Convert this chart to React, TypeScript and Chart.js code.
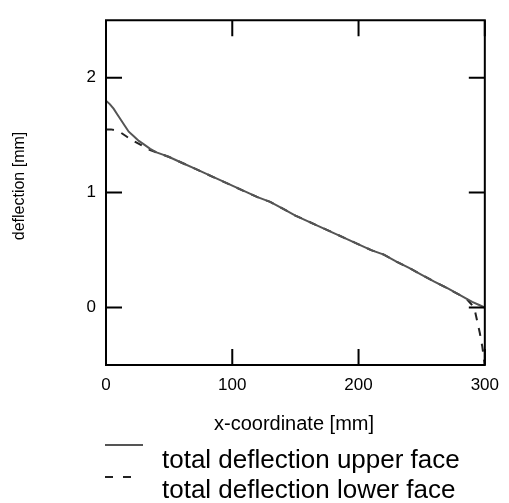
import React, { useEffect, useRef } from "react";
import { Chart, registerables } from "chart.js";

Chart.register(...registerables);

const upperX = [0, 3, 6, 9, 12, 15, 18, 22, 26, 30, 35, 40, 45, 50, 60, 70, 80, 90, 100, 110, 120, 130, 140, 150, 160, 170, 180, 190, 200, 210, 220, 230, 240, 250, 260, 270, 280, 290, 296, 300];
const upperY = [1.8, 1.77, 1.73, 1.68, 1.63, 1.58, 1.53, 1.49, 1.45, 1.42, 1.38, 1.35, 1.33, 1.31, 1.26, 1.21, 1.16, 1.11, 1.06, 1.01, 0.96, 0.92, 0.86, 0.8, 0.75, 0.7, 0.65, 0.6, 0.55, 0.5, 0.46, 0.4, 0.345, 0.285, 0.225, 0.17, 0.11, 0.05, 0.02, 0.0];

const lowerX = [0, 4, 8, 12, 16, 20, 25, 30, 35, 40, 45, 50, 60, 70, 80, 90, 100, 110, 120, 130, 140, 150, 160, 170, 180, 190, 200, 210, 220, 230, 240, 250, 260, 270, 280, 286, 290, 292, 294, 296, 298, 300];
const lowerY = [1.55, 1.55, 1.54, 1.52, 1.49, 1.46, 1.43, 1.4, 1.37, 1.35, 1.33, 1.31, 1.26, 1.21, 1.16, 1.11, 1.06, 1.01, 0.96, 0.92, 0.86, 0.8, 0.75, 0.7, 0.65, 0.6, 0.55, 0.5, 0.46, 0.4, 0.345, 0.285, 0.225, 0.17, 0.11, 0.07, 0.02, -0.02, -0.12, -0.22, -0.34, -0.5];

const xTicks = [0, 100, 200, 300];
const yTicks = [0, 1, 2];
const xTitle = "x-coordinate [mm]";
const yTitle = "deflection [mm]";
const legendLabels = ["total deflection upper face", "total deflection lower face"];

const FONT = "'Liberation Sans', Arial, Helvetica, sans-serif";
const UPPER_COLOR = "#555555";
const LOWER_COLOR = "#222222";

const framePlugin = {
  id: "framePlugin",
  afterDraw(chart: any) {
    const { ctx, chartArea, scales } = chart;
    const { left, right, top, bottom } = chartArea;
    const tl = 16;
    ctx.save();
    ctx.strokeStyle = "#000";
    ctx.lineWidth = 2;
    ctx.beginPath();
    ctx.rect(left, top, right - left, bottom - top);
    ctx.stroke();
    ctx.beginPath();
    for (const v of xTicks) {
      const px = scales.x.getPixelForValue(v);
      ctx.moveTo(px, bottom);
      ctx.lineTo(px, bottom - tl);
      ctx.moveTo(px, top);
      ctx.lineTo(px, top + tl);
    }
    for (const v of yTicks) {
      const py = scales.y.getPixelForValue(v);
      ctx.moveTo(left, py);
      ctx.lineTo(left + tl, py);
      ctx.moveTo(right, py);
      ctx.lineTo(right - tl, py);
    }
    ctx.stroke();

    // axis titles
    ctx.fillStyle = "#000";
    ctx.textAlign = "center";
    ctx.textBaseline = "middle";
    ctx.font = `20px ${FONT}`;
    ctx.fillText(xTitle, 294, 424);
    ctx.save();
    ctx.translate(20, 186);
    ctx.rotate(-Math.PI / 2);
    ctx.font = `16px ${FONT}`;
    ctx.fillText(yTitle, 0, 0);
    ctx.restore();

    // legend
    ctx.textAlign = "left";
    ctx.textBaseline = "alphabetic";
    ctx.font = `26px ${FONT}`;
    ctx.lineWidth = 2;
    ctx.strokeStyle = UPPER_COLOR;
    ctx.beginPath();
    ctx.moveTo(105, 445);
    ctx.lineTo(143, 445);
    ctx.stroke();
    ctx.fillText(legendLabels[0], 162, 468);
    ctx.strokeStyle = LOWER_COLOR;
    ctx.setLineDash([8, 10]);
    ctx.beginPath();
    ctx.moveTo(105, 477);
    ctx.lineTo(131, 477);
    ctx.stroke();
    ctx.setLineDash([]);
    ctx.fillText(legendLabels[1], 162, 498);
    ctx.restore();
  },
};

export default function App() {
  const ref = useRef<HTMLCanvasElement | null>(null);
  useEffect(() => {
    document.body.style.margin = "0";
    const canvas = ref.current;
    if (!canvas) return;
    const chart = new Chart(canvas, {
      type: "line",
      data: {
        datasets: [
          {
            label: legendLabels[0],
            data: upperX.map((x, i) => ({ x, y: upperY[i] })),
            borderColor: UPPER_COLOR,
            borderWidth: 2,
            pointRadius: 0,
            tension: 0,
            fill: false,
          },
          {
            label: legendLabels[1],
            data: lowerX.map((x, i) => ({ x, y: lowerY[i] })),
            borderColor: LOWER_COLOR,
            borderWidth: 2,
            borderDash: [8, 8],
            pointRadius: 0,
            tension: 0,
            fill: false,
          },
        ],
      },
      options: {
        animation: false,
        responsive: false,
        maintainAspectRatio: false,
        layout: { padding: { left: 40, right: 21, top: 13, bottom: 108 } },
        plugins: { legend: { display: false }, tooltip: { enabled: false } },
        scales: {
          x: {
            type: "linear",
            min: 0,
            max: 300,
            afterBuildTicks: (s: any) => {
              s.ticks = xTicks.map((v) => ({ value: v }));
            },
            afterFit: (s: any) => {
              s.height = 30;
            },
            grid: { display: false, drawTicks: false },
            border: { display: false },
            ticks: {
              color: "#000",
              padding: 10,
              maxRotation: 0,
              autoSkip: false,
              font: { family: FONT, size: 17 },
            },
          },
          y: {
            type: "linear",
            min: -0.5,
            max: 2.5,
            afterBuildTicks: (s: any) => {
              s.ticks = yTicks.map((v) => ({ value: v }));
            },
            afterFit: (s: any) => {
              s.width = 66;
            },
            grid: { display: false, drawTicks: false },
            border: { display: false },
            ticks: {
              color: "#000",
              padding: 10,
              autoSkip: false,
              font: { family: FONT, size: 17 },
            },
          },
        },
      },
      plugins: [framePlugin],
    });
    return () => chart.destroy();
  }, []);
  return (
    <div style={{ width: 509, height: 503 }}>
      <canvas ref={ref} width={509} height={503} style={{ display: "block" }} />
    </div>
  );
}
